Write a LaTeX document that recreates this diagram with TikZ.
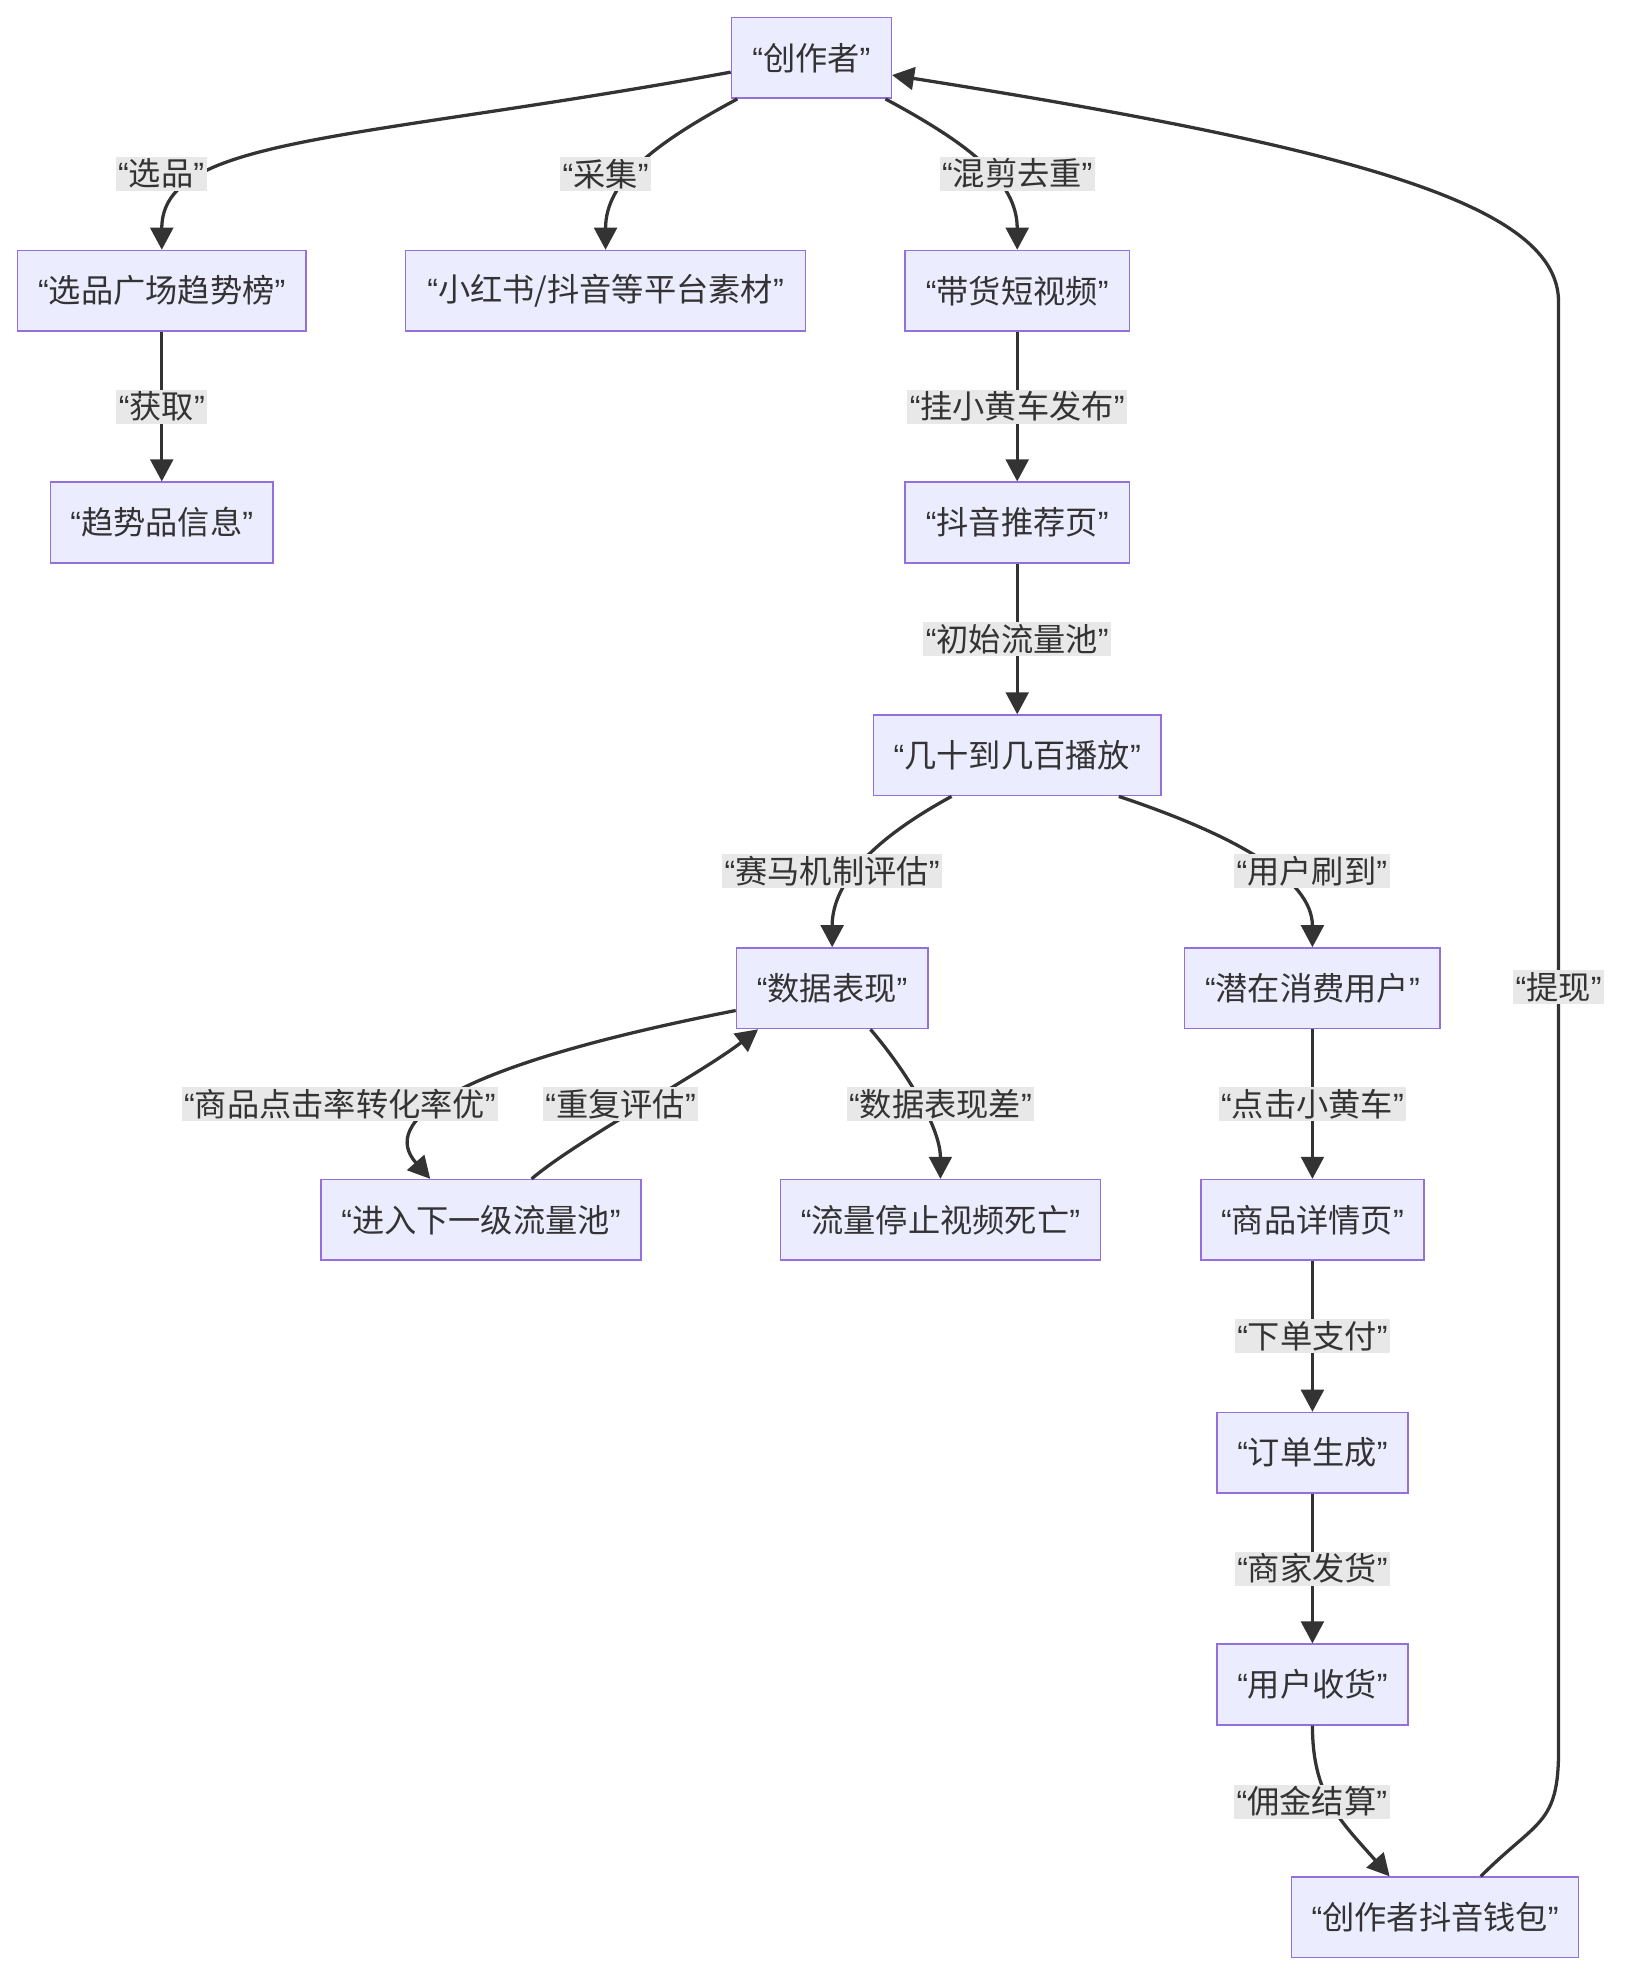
\documentclass[tikz,border=0pt]{standalone}
\usepackage{fontspec}
\setmainfont{Noto Sans CJK SC}
\newfontfamily\quotefont{Liberation Sans}
\usepackage{tikz}
\usetikzlibrary{arrows.meta}
\definecolor{nodeFill}{HTML}{ECECFF}
\definecolor{nodeLine}{HTML}{9370DB}
\definecolor{inkGray}{HTML}{333333}
\definecolor{labelGray}{HTML}{E8E8E8}
\newcommand{\qt}[1]{{\quotefont “}#1{\quotefont ”}}

\begin{document}
\begin{tikzpicture}[
    x=0.5pt, y=-0.5pt,
    box/.style={rectangle, draw=nodeLine, fill=nodeFill, line width=0.6pt, minimum height=32pt, inner sep=0pt, text=inkGray, font=\fontsize{12.8}{15}\selectfont},
    elabel/.style={rectangle, fill=labelGray, inner xsep=1pt, inner ysep=0.8pt, text=inkGray, font=\fontsize{12.8}{15}\selectfont},
    flow/.style={-{Triangle[length=8.75pt, width=9pt]}, line width=1.3pt, draw=inkGray}
]
\useasboundingbox (0,0) rectangle (1290,1568);

% Nodes
\node[box, minimum width=63.5pt] (creator) at (644.5,46) {\qt{创作者}};
\node[box, minimum width=114.5pt] (pick) at (128.5,231) {\qt{选品广场趋势榜}};
\node[box, minimum width=159pt] (material) at (481,231) {\qt{小红书/抖音等平台素材}};
\node[box, minimum width=89pt] (video) at (808,231) {\qt{带货短视频}};
\node[box, minimum width=88.5pt] (trend) at (128.5,415) {\qt{趋势品信息}};
\node[box, minimum width=89pt] (feed) at (808,415) {\qt{抖音推荐页}};
\node[box, minimum width=114pt] (pool) at (808,600) {\qt{几十到几百播放}};
\node[box, minimum width=76pt] (data) at (661,785) {\qt{数据表现}};
\node[box, minimum width=101.5pt] (viewer) at (1042.5,785) {\qt{潜在消费用户}};
\node[box, minimum width=127pt] (nextpool) at (382,969) {\qt{进入下一级流量池}};
\node[box, minimum width=127pt] (dead) at (747,969) {\qt{流量停止视频死亡}};
\node[box, minimum width=88.5pt] (detail) at (1042.5,969) {\qt{商品详情页}};
\node[box, minimum width=76pt] (order) at (1042.5,1154) {\qt{订单生成}};
\node[box, minimum width=76pt] (receive) at (1042.5,1338) {\qt{用户收货}};
\node[box, minimum width=114pt] (wallet) at (1140,1523) {\qt{创作者抖音钱包}};

% Rail of the payout edge
\coordinate (railbot) at (1238,1390);
\coordinate (railtop) at (1238,240);

% Edges
\draw[flow] (creator.190) .. controls +(-300,55) and +(0,-90) .. (pick.north);
\draw[flow] (creator.209) .. controls +(-65,35) and +(0,-55) .. (material.north);
\draw[flow] (creator.331) .. controls +(65,35) and +(0,-55) .. (video.north);
\draw[flow] (pick) -- node[elabel] (lbGet) {\qt{获取}} (trend);
\draw[flow] (video) -- node[elabel] (lbPost) {\qt{挂小黄车发布}} (feed);
\draw[flow] (feed) -- node[elabel] (lbInit) {\qt{初始流量池}} (pool);
\draw[flow] (pool.212) .. controls +(-55,30) and +(0,-55) .. (data.north);
\draw[flow] (pool.338) .. controls +(90,30) and +(0,-55) .. (viewer.north);
\draw[flow] (data.193) .. controls +(-230,45) and +(-40,-45) .. (nextpool.141);
\draw[flow] (nextpool.39) .. controls +(35,-30) and +(-45,35) .. (data.209);
\draw[flow] (data.313) .. controls +(30,35) and +(0,-40) .. (dead.north);
\draw[flow] (viewer) -- node[elabel] (lbClick) {\qt{点击小黄车}} (detail);
\draw[flow] (detail) -- node[elabel] (lbPay) {\qt{下单支付}} (order);
\draw[flow] (order) -- node[elabel] (lbShip) {\qt{商家发货}} (receive);
\draw[flow] (receive.south) .. controls +(0,55) and +(-40,-45) .. (wallet.138);
\draw[flow] (wallet.42) .. controls +(45,-45) and +(0,60) .. (railbot)
    -- node[elabel, pos=0.527] (lbCash) {\qt{提现}} (railtop)
    .. controls +(0,-75) and +(380,60) .. (creator.348);

% Labels of the curved edges
\node[elabel] (lbPick) at (128,138) {\qt{选品}};
\node[elabel] (lbCollect) at (481,138) {\qt{采集}};
\node[elabel] (lbEdit) at (808,138) {\qt{混剪去重}};
\node[elabel] (lbRace) at (661,692) {\qt{赛马机制评估}};
\node[elabel] (lbSeen) at (1042,692) {\qt{用户刷到}};
\node[elabel] (lbGood) at (270,877) {\qt{商品点击率转化率优}};
\node[elabel] (lbAgain) at (493,877) {\qt{重复评估}};
\node[elabel] (lbPoor) at (747,877) {\qt{数据表现差}};
\node[elabel] (lbFee) at (1042,1431) {\qt{佣金结算}};

\end{tikzpicture}
\end{document}
